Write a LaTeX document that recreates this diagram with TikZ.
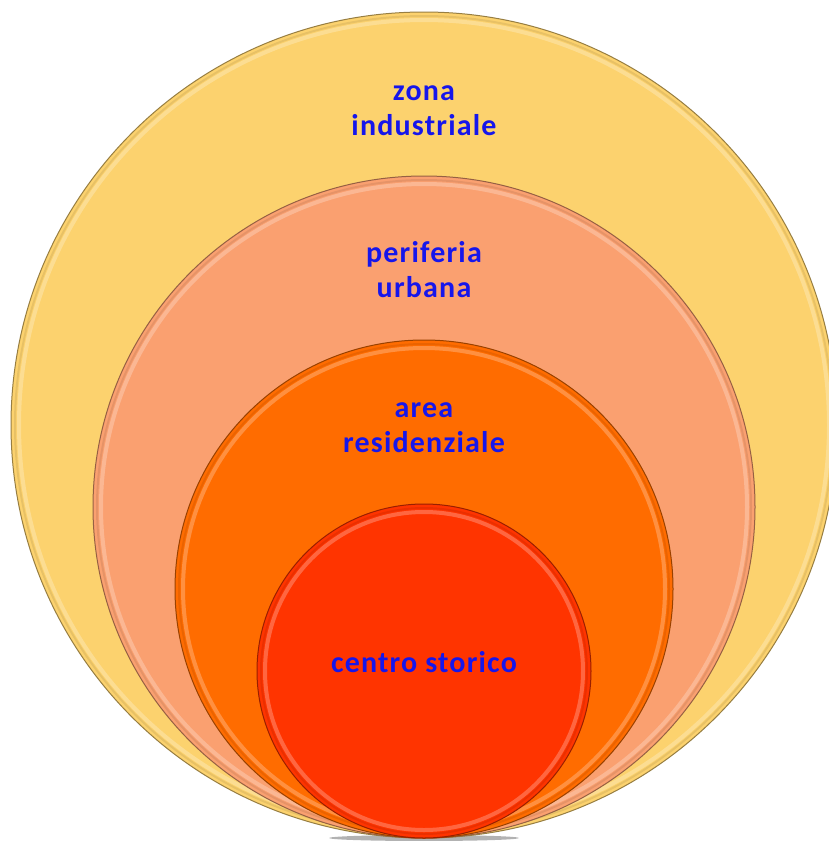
\documentclass[tikz,border=0pt]{standalone}
\usepackage{fontspec}
\setmainfont{Carlito}[LetterSpace=4]
\usetikzlibrary{positioning}
\definecolor{zonacol}{RGB}{252,210,110}
\definecolor{perifcol}{RGB}{250,160,112}
\definecolor{areacol}{RGB}{255,108,0}
\definecolor{centrocol}{RGB}{255,52,0}
\definecolor{blutesto}{RGB}{22,22,235}

\begin{document}
\begin{tikzpicture}[x=1pt, y=-1pt, font=\bfseries\fontsize{30}{35}\selectfont]
        \useasboundingbox (0,0) rectangle (829,841);
        % faint shadow under the rings
        \fill[black, opacity=.3] (424,838) ellipse[x radius=95, y radius=3];
        \foreach \i/\r/\col/\txt/\ty in {
            1/413/zonacol/{zona\\industriale}/111,
            2/331/perifcol/{periferia\\urbana}/270,
            3/249/areacol/{area\\residenziale}/428,
            4/167/centrocol/{centro storico}/662}
        {
            \pgfmathsetmacro{\cy}{838-\r}
            \pgfmathsetmacro{\d}{2*\r}
            \node[circle, draw=\col!60!black, line width=1pt, fill=\col, inner sep=0pt,
                  minimum size=\d pt] (c\i) at (424,\cy) {};
            \draw[white, opacity=.25, line width=4pt] (c\i.center) circle[radius=\r-8];
            \draw[\col!85!black, opacity=.5, line width=2pt] (c\i.center) circle[radius=\r-4];
            \node[align=center, text=blutesto] (t\i) at (424,\ty) {\txt};
        }
    \end{tikzpicture}
\end{document}
